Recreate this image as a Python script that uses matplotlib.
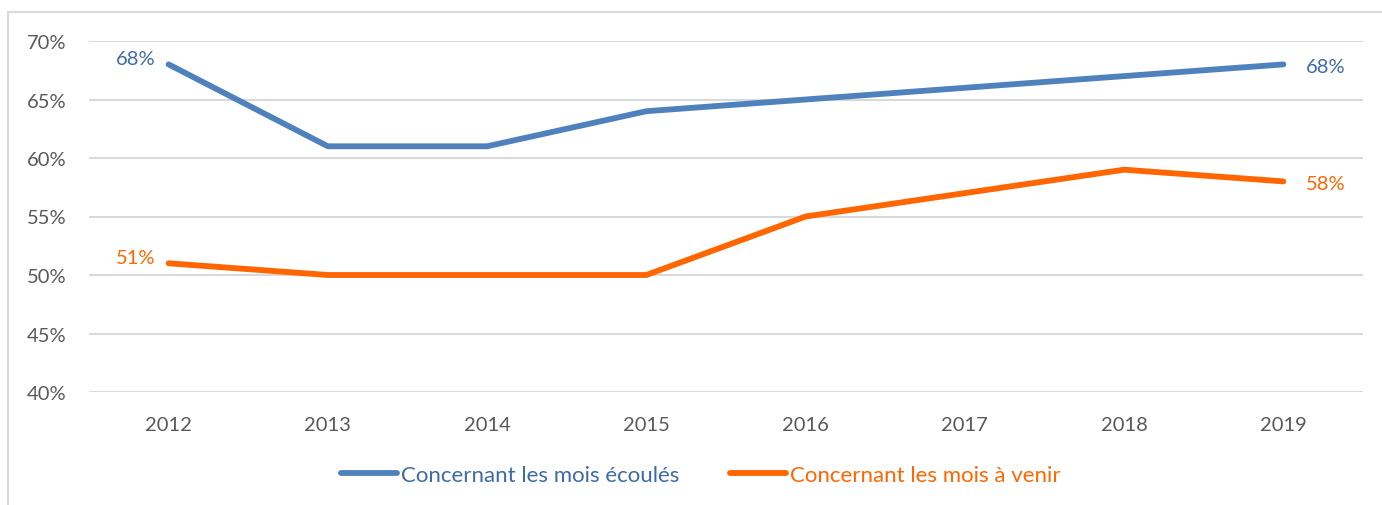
import matplotlib
matplotlib.use("Agg")
import matplotlib.pyplot as plt
from matplotlib.patches import Rectangle
from matplotlib.lines import Line2D

years = ["2012", "2013", "2014", "2015", "2016", "2017", "2018", "2019"]
ecoules = [0.68, 0.61, 0.61, 0.64, 0.65, 0.66, 0.67, 0.68]
a_venir = [0.51, 0.50, 0.50, 0.50, 0.55, 0.57, 0.59, 0.58]
yticks = [0.40, 0.45, 0.50, 0.55, 0.60, 0.65, 0.70]
ytick_labels = ["40%", "45%", "50%", "55%", "60%", "65%", "70%"]
series_names = ["Concernant les mois écoulés", "Concernant les mois à venir"]

plt.rcParams['font.family'] = ['Lato', 'DejaVu Sans']

W, H = 1382, 506
fig = plt.figure(figsize=(W / 100, H / 100), dpi=100)
fig.patches.append(Rectangle((8 / W, -0.1), 1.2, 1 - 13 / H + 0.1, transform=fig.transFigure,
                             fill=False, edgecolor="#D9D9D9", linewidth=1.5))

ax = fig.add_axes([89 / W, 1 - 393 / H, (1363 - 89) / W, (393 - 42) / H])
x = list(range(len(years)))
blue = "#4F81BD"
orange = "#FF6600"
lw = 4.2
ax.plot(x, ecoules, color=blue, linewidth=lw, solid_capstyle="round", zorder=3)
ax.plot(x, a_venir, color=orange, linewidth=lw, solid_capstyle="round", zorder=3)

ax.set_xlim(-0.5, len(years) - 0.5)
ax.set_ylim(0.40, 0.70)
ax.set_yticks(yticks)
ax.set_yticklabels(ytick_labels)
ax.set_xticks(x)
ax.set_xticklabels(years)
ax.grid(axis="y", color="#D9D9D9", linewidth=1.5)
ax.set_axisbelow(True)
for s in ax.spines.values():
    s.set_visible(False)
ax.tick_params(length=0, labelsize=14.5, colors="#595959")
ax.tick_params(axis="y", pad=16)
ax.tick_params(axis="x", pad=17)

lab_blue = "#3E6AA6"
for vals, col in [(ecoules, lab_blue), (a_venir, orange)]:
    ax.annotate(f"{vals[0]*100:.0f}%", (0, vals[0]), xytext=(-9.5, 4), textcoords="offset points",
                ha="right", va="center", fontsize=14.5, color=col)
    ax.annotate(f"{vals[-1]*100:.0f}%", (len(vals) - 1, vals[-1]), xytext=(16.5, -1.5), textcoords="offset points",
                ha="left", va="center", fontsize=14.5, color=col)

handles = [Line2D([], [], color=blue, linewidth=lw, solid_capstyle="round"),
           Line2D([], [], color=orange, linewidth=lw, solid_capstyle="round")]
leg = fig.legend(handles, series_names, loc="center", bbox_to_anchor=(701 / W, 1 - 476 / H),
                 ncol=2, frameon=False, fontsize=16, handlelength=2.5, handletextpad=0.18,
                 columnspacing=2.3)
for t, c in zip(leg.get_texts(), [lab_blue, orange]):
    t.set_color(c)

fig.savefig("out.png", dpi=100)
